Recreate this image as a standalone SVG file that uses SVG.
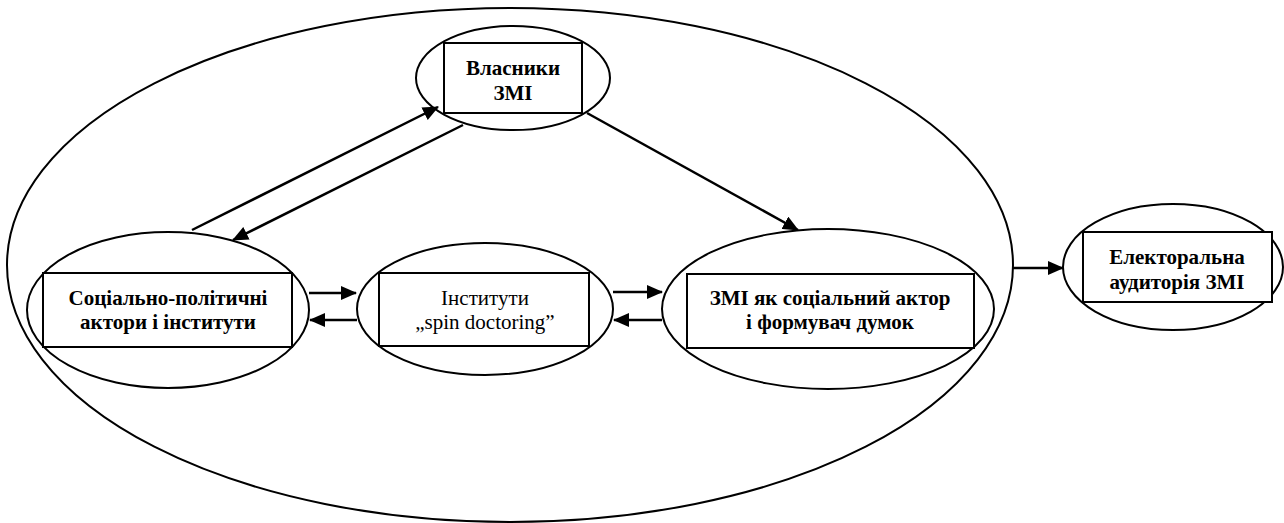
<svg xmlns="http://www.w3.org/2000/svg" width="1284" height="523" viewBox="0 0 1284 523">
<style>
.ell{fill:none;stroke:#000;stroke-width:2}
.box{fill:#fff;stroke:#000;stroke-width:2}
.t{font-family:'Liberation Serif',serif;font-size:21px;text-anchor:middle;fill:#000}
.b{font-weight:700}
.c{fill:none;stroke:#000;stroke-width:2.5}
</style>
<defs>
<marker id="ah" markerUnits="userSpaceOnUse" markerWidth="16" markerHeight="14" refX="15" refY="7" orient="auto">
<path d="M0,0 L16,7 L0,14 Z" fill="#000"/>
</marker>
</defs>
<rect width="1284" height="523" fill="#fff"/>
<g id="outer">
<ellipse class="ell" cx="510" cy="265" rx="503" ry="257"/>
</g>
<g id="owners">
<ellipse class="ell" cx="513" cy="78" rx="97" ry="52"/>
<rect class="box" x="444" y="43" width="138" height="70"/>
<text class="t b" x="513" y="75">Власники</text>
<text class="t b" x="513" y="100">ЗМІ</text>
</g>
<g id="actors">
<ellipse class="ell" cx="168" cy="310" rx="141" ry="78"/>
<rect class="box" x="43" y="273" width="249" height="74"/>
<text class="t b" x="168" y="305">Соціально-політичні</text>
<text class="t b" x="168" y="329">актори і інститути</text>
</g>
<g id="spin">
<ellipse class="ell" cx="485" cy="309" rx="128" ry="66"/>
<rect class="box" x="379" y="273" width="210" height="73"/>
<text class="t" x="485" y="305">Інститути</text>
<text class="t" x="485" y="329">„spin doctoring”</text>
</g>
<g id="media">
<ellipse class="ell" cx="828" cy="309" rx="166" ry="80"/>
<rect class="box" x="687" y="274" width="287" height="74"/>
<text class="t b" x="830" y="305">ЗМІ як соціальний актор</text>
<text class="t b" x="830" y="329">і формувач думок</text>
</g>
<g id="audience">
<ellipse class="ell" cx="1173" cy="267" rx="110" ry="63"/>
<rect class="box" x="1083" y="232" width="189" height="70"/>
<text class="t b" x="1177" y="264">Електоральна</text>
<text class="t b" x="1177" y="289">аудиторія ЗМІ</text>
</g>
<g id="connectors">
<line class="c" x1="192" y1="230" x2="438" y2="107" marker-end="url(#ah)"/>
<line class="c" x1="463" y1="125" x2="233" y2="240" marker-end="url(#ah)"/>
<line class="c" x1="587" y1="113" x2="798" y2="230" marker-end="url(#ah)"/>
<line class="c" x1="309" y1="293" x2="356" y2="293" marker-end="url(#ah)"/>
<line class="c" x1="357" y1="320" x2="310" y2="320" marker-end="url(#ah)"/>
<line class="c" x1="613" y1="292" x2="662" y2="292" marker-end="url(#ah)"/>
<line class="c" x1="662" y1="320" x2="614" y2="320" marker-end="url(#ah)"/>
<line class="c" x1="1013" y1="268" x2="1063" y2="268" marker-end="url(#ah)"/>
</g>
</svg>
